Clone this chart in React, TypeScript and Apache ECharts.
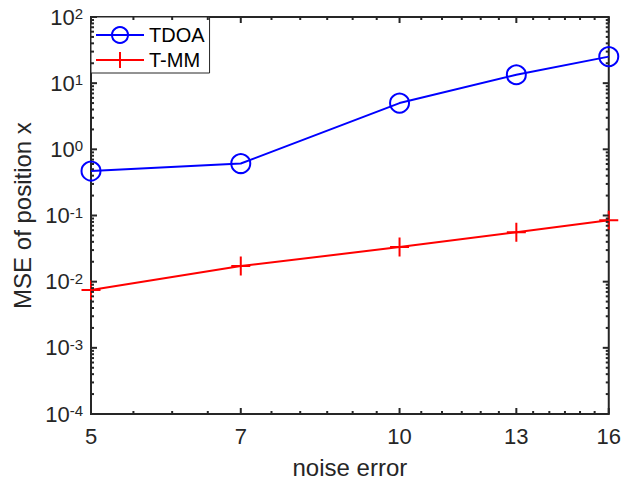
import React, { useEffect, useRef } from "react";
import * as echarts from "echarts";

// ---- data ----
const noiseError = [5, 7, 10, 13, 16];
const tdoaMSE = [0.47, 0.61, 5.0, 13.4, 25.2];
const tmmMSE = [0.0075, 0.0172, 0.0333, 0.056, 0.085];

// ---- ticks ----
const xTickValues = [5, 7, 10, 13, 16];
const xMinorTickValues = [5.5, 6, 6.5, 7.5, 8, 8.5, 9, 9.5, 10.5, 11, 11.5, 12, 12.5, 13.5, 14, 14.5, 15, 15.5];
const yTickExponents = [-4, -3, -2, -1, 0, 1, 2];
const yMinorMultipliers = [2, 3, 4, 5, 6, 7, 8, 9];

const xMin = 5;
const xMax = 16;
const yMin = 1e-4;
const yMax = 100;

const FONT = "'Liberation Sans', Arial, Helvetica, sans-serif";
const AXIS = "#262626";
const MAJOR_LEN = 6;
const MINOR_LEN = 3;

export default function App() {
  const ref = useRef<HTMLDivElement>(null);

  useEffect(() => {
    if (!ref.current) return;
    const chart = echarts.init(ref.current, null, { renderer: "svg" });
    const lg = Math.log10;

    chart.setOption({
      animation: false,
      backgroundColor: "#fff",
      textStyle: { fontFamily: FONT },
      grid: {
        left: 91,
        right: 12,
        top: 17,
        bottom: 69,
        show: true,
        borderColor: AXIS,
        borderWidth: 2,
      },
      legend: {
        left: 91,
        top: 17,
        orient: "vertical",
        itemWidth: 48,
        itemHeight: 20,
        itemGap: 5,
        padding: [8, 5, 3, 4],
        backgroundColor: "#fff",
        borderColor: AXIS,
        borderWidth: 1,
        borderRadius: 0,
        textStyle: { fontSize: 20, color: "#000", fontFamily: FONT },
        data: ["TDOA", "T-MM"],
        z: 10,
      },
      xAxis: [
        { type: "log", logBase: 10, min: xMin, max: xMax, show: false, axisLine: { onZero: false } },
        {
          type: "value",
          min: lg(xMin),
          max: lg(xMax),
          position: "bottom",
          axisLine: { show: false, onZero: false },
          splitLine: { show: false },
          axisTick: { show: false },
          axisLabel: {
            show: true,
            customValues: xTickValues.map(lg),
            formatter: (v: number) => String(Math.round(Math.pow(10, v))),
            margin: 11,
            fontSize: 22,
            color: AXIS,
            fontFamily: FONT,
          },
          name: "noise error",
          nameLocation: "middle",
          nameGap: 41,
          nameTextStyle: { fontSize: 24, color: AXIS, fontFamily: FONT },
        },
      ],
      yAxis: [
        { type: "log", logBase: 10, min: yMin, max: yMax, show: false, axisLine: { onZero: false } },
        {
          type: "value",
          min: lg(yMin),
          max: lg(yMax),
          position: "left",
          axisLine: { show: false, onZero: false },
          splitLine: { show: false },
          axisTick: { show: false },
          axisLabel: {
            show: true,
            customValues: yTickExponents,
            formatter: (v: number) => `{b|10}{s|${Math.round(v)}}`,
            margin: 8,
            color: AXIS,
            fontFamily: FONT,
            rich: {
              b: { fontSize: 22, lineHeight: 22, verticalAlign: "bottom", color: AXIS, fontFamily: FONT },
              s: { fontSize: 15, lineHeight: 15, verticalAlign: "top", padding: [0, 0, 10, 0], color: AXIS, fontFamily: FONT },
            },
          },
          name: "MSE of position x",
          nameLocation: "middle",
          nameGap: 57,
          nameTextStyle: { fontSize: 24, color: AXIS, fontFamily: FONT },
        },
      ],
      series: [
        {
          name: "TDOA",
          type: "line",
          xAxisIndex: 0,
          yAxisIndex: 0,
          z: 5,
          data: noiseError.map((x, i) => [x, tdoaMSE[i]]),
          symbol: "circle",
          symbolSize: 19,
          clip: false,
          lineStyle: { color: "#0000ff", width: 2 },
          itemStyle: { color: "rgba(0,0,0,0)", borderColor: "#0000ff", borderWidth: 2 },
        },
        {
          name: "T-MM",
          type: "line",
          xAxisIndex: 0,
          yAxisIndex: 0,
          z: 5,
          data: noiseError.map((x, i) => [x, tmmMSE[i]]),
          symbol: "path://M0,-10L0,10M-10,0L10,0",
          symbolSize: 19,
          clip: false,
          lineStyle: { color: "#ff0000", width: 2 },
          itemStyle: { color: "rgba(0,0,0,0)", borderColor: "#ff0000", borderWidth: 2 },
        },
      ],
    });

    // ticks placed through the chart's own log scales
    const finder = { xAxisIndex: 0, yAxisIndex: 0 };
    const px = (x: number, y: number) => chart.convertToPixel(finder as any, [x, y]) as number[];
    const lines: any[] = [];
    const addLine = (x1: number, y1: number, x2: number, y2: number) =>
      lines.push({
        type: "line",
        z: 100,
        silent: true,
        shape: { x1, y1, x2, y2 },
        style: { stroke: AXIS, lineWidth: 2 },
      });
    const xTicks: [number, number][] = [
      ...xTickValues.map((v) => [v, MAJOR_LEN] as [number, number]),
      ...xMinorTickValues.map((v) => [v, MINOR_LEN] as [number, number]),
    ];
    xTicks.forEach(([v, len]) => {
      const b = px(v, yMin);
      const t = px(v, yMax);
      addLine(b[0], b[1], b[0], b[1] - len);
      addLine(t[0], t[1], t[0], t[1] + len);
    });
    const yTicks: [number, number][] = [];
    yTickExponents.forEach((e) => yTicks.push([Math.pow(10, e), MAJOR_LEN]));
    yTickExponents.slice(0, -1).forEach((e) => {
      yMinorMultipliers.forEach((k) => yTicks.push([k * Math.pow(10, e), MINOR_LEN]));
    });
    yTicks.forEach(([v, len]) => {
      const l = px(xMin, v);
      const r = px(xMax, v);
      addLine(l[0], l[1], l[0] + len, l[1]);
      addLine(r[0], r[1], r[0] - len, r[1]);
    });
    chart.setOption({ graphic: { elements: lines } });

    return () => chart.dispose();
  }, []);

  return (
    <div
      ref={ref}
      style={{ position: "fixed", left: 0, top: 0, width: 624, height: 484, background: "#fff" }}
    />
  );
}
